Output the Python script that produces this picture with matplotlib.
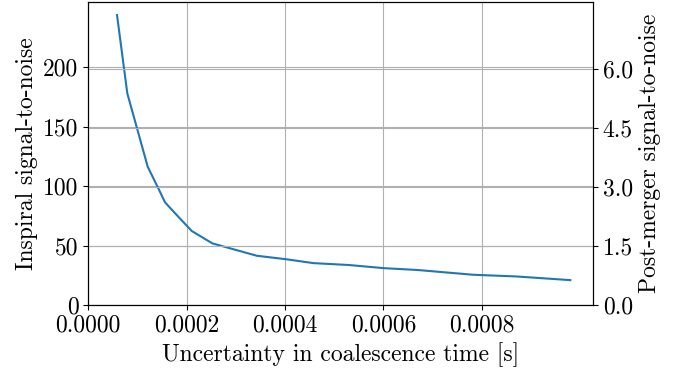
import matplotlib
matplotlib.use("Agg")
import matplotlib.pyplot as plt

plt.rcParams['font.family'] = 'serif'
plt.rcParams['font.serif'] = ['cmr10']
plt.rcParams['axes.formatter.use_mathtext'] = True
plt.rcParams['mathtext.fontset'] = 'cm'

# Data
dt = [5.84e-5, 7.93e-5, 1.208e-4, 1.424e-4, 1.56e-4, 1.798e-4, 2.103e-4, 2.522e-4,
      3.425e-4, 4.035e-4, 4.576e-4, 5.30e-4, 6.0e-4, 6.70e-4, 7.83e-4, 8.70e-4, 9.80e-4]
snr_inspiral = [243.7, 177.9, 116.2, 98.0, 86.3, 75.6, 62.2, 51.8,
                41.4, 38.4, 35.2, 33.6, 31.0, 29.4, 25.4, 24.0, 20.9]
left_ticks = [0, 50, 100, 150, 200]
right_ticks = [0.0, 1.5, 3.0, 4.5, 6.0]
x_ticks = [0.0, 0.0002, 0.0004, 0.0006, 0.0008]

fs = 17
fig = plt.figure(figsize=(6.88, 3.76), dpi=100)
ax = fig.add_axes([88.3/688, 1 - 305/376, (593-88.3)/688, (305-1.8)/376])
ax.plot(dt, snr_inspiral, color='#1f77b4', lw=1.5)
ax.set_xlim(left=0)
ax.set_ylim(bottom=0)
ax.set_xticks(x_ticks)
ax.set_xticklabels(['%.4f' % v for v in x_ticks])
ax.set_yticks(left_ticks)
ax.set_yticklabels([str(v) for v in left_ticks])
ax.grid(True, color='#b0b0b0', lw=0.8)
ax.tick_params(labelsize=fs)
ax.set_xlabel('Uncertainty in coalescence time [s]', fontsize=fs)
ax.set_ylabel('Inspiral signal-to-noise', fontsize=fs)

ax2 = ax.twinx()
ax2.set_ylim(0, 7.7)
ax2.set_yticks(right_ticks)
ax2.set_yticklabels(['%.1f' % v for v in right_ticks])
ax2.grid(True, color='#b0b0b0', lw=0.8)
ax2.tick_params(labelsize=fs)
ax2.set_ylabel('Post-merger signal-to-noise', fontsize=fs)

fig.savefig('out.png', dpi=100)
